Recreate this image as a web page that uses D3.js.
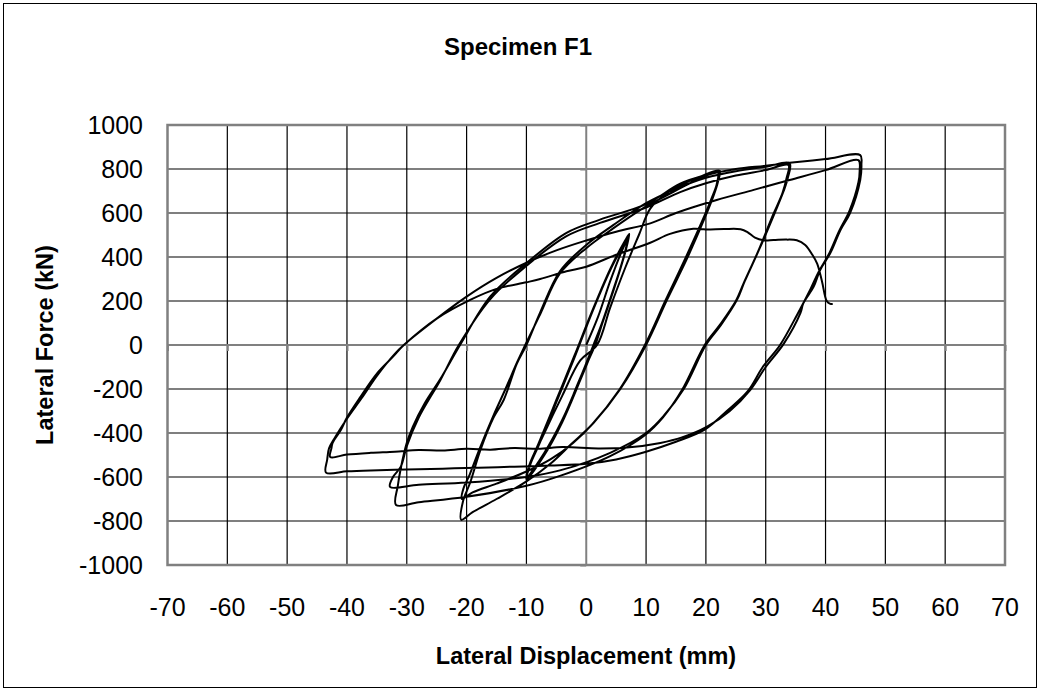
<!DOCTYPE html>
<html><head><meta charset="utf-8">
<script src="https://cdn.jsdelivr.net/npm/d3@7"></script>
<style>
body{margin:0;background:#fff}
svg text{font-family:Arial,"Liberation Sans",sans-serif;fill:#000}
</style></head>
<body><svg id="c" width="1040" height="691"></svg>
<script>
// ---- tick labels ----
const xTicks = [-70,-60,-50,-40,-30,-20,-10,0,10,20,30,40,50,60,70];
const yTicks = [-1000,-800,-600,-400,-200,0,200,400,600,800,1000];

// ---- hysteresis branches [displacement mm, force kN] ----
const cycSmall = [[0,0],[2,130],[4,290],[6,430],[7,485],
 [6.4,410],[4.5,250],[2.5,90],[1.2,0],[-1,-150],[-4,-340],[-7,-490],[-9.8,-595],
 [-9.3,-540],[-8,-460],[-5,-260],[-2,-60],[1,150],[4,340],[6.5,470],[7,495],
 [6.5,425],[4.6,255],[2.6,95],[1.4,0],[-1,-160],[-4,-350],[-7,-500],[-10,-605],
 [-9.5,-545],[-8,-450],[-5,-250],[-2,-50],[1,155],[4,345],[6.5,475],[7.2,505],
 [6.6,430],[4.7,260],[2.7,100],[1.5,0],[-1,-150],[-4,-345],[-7,-500],[-10,-610]];
const load22a = [[-10,-610],[-9.4,-545],[-7,-400],[-4,-230],[-1,-70],[1.8,0],[4,170],[6.5,350],[8.8,500],[10.7,620],[13,680],[16,730],[19,765],[22.3,792]];
const unload22a = [[22.3,792],[22,740],[21.3,680],[20,590],[16.8,390],[13.5,205],[10,0],[5.7,-200],[1.2,-355],[-2.2,-445],[-6,-520],[-10,-575],[-15,-630],[-19,-670],[-20.8,-700]];
const load22b = [[-20.8,-700],[-20.5,-650],[-19.5,-590],[-17.8,-470],[-15.5,-320],[-13.5,-200],[-11.5,-75],[-10.2,0],[-7.7,140],[-4.4,325],[0,440],[4.5,530],[10,630],[14.5,695],[18,745],[20.5,775],[22,788]];
const unload22b = [[22,788],[21.8,730],[21,670],[19.8,590],[16.5,390],[13.2,200],[9.8,0],[5.5,-205],[1,-360],[-2.5,-450],[-6,-540],[-10,-620],[-15,-700],[-19,-760],[-20.9,-795]];
const load34a = [[-20.9,-795],[-20.6,-710],[-19.4,-625],[-17.7,-478],[-15.5,-330],[-13.8,-250],[-11.6,-85],[-10,0],[-7.7,148],[-4.4,335],[0,455],[4.5,545],[10,645],[15,710],[20,760],[25,790],[30,810],[34,826]];
const unload34a = [[34,826],[33.7,760],[33,700],[31.5,600],[29,440],[26.5,290],[25.2,205],[22.5,90],[20,0],[16.3,-200],[13,-320],[10,-400],[4,-490],[-4.4,-570],[-10,-600],[-20,-625],[-28,-635],[-32.8,-645]];
const load34b = [[-32.8,-645],[-32.3,-600],[-31,-553],[-30,-460],[-28,-330],[-24.4,-160],[-21.3,0],[-16,210],[-10,360],[-3.3,495],[2.3,555],[10,625],[15.7,695],[20,735],[25,770],[30,795],[33.8,818]];
const unload34b = [[33.8,818],[33.5,760],[32.8,690],[31.2,590],[28.8,430],[26.3,280],[25,200],[22.3,90],[19.8,0],[16,-205],[12.8,-330],[9.8,-410],[4,-505],[-4.4,-595],[-10,-640],[-20,-690],[-28,-715],[-31.8,-727]];
const load45a = [[-31.8,-727],[-31.5,-640],[-31,-560],[-30,-445],[-29,-372],[-27,-265],[-24.4,-155],[-21,5],[-16,222],[-10,372],[-3.3,510],[2.3,570],[10,640],[15.7,733],[20,772],[25,800],[30,815],[34,828],[40,845],[45.8,863]];
const unload45a = [[45.8,863],[46,820],[45.8,750],[44.1,600],[42.5,523],[40.8,418],[39.1,341],[38,264],[36.3,190],[35.8,145],[33,5],[30,-100],[27.4,-205],[24,-300],[20.2,-371],[16,-420],[12.4,-445],[6.8,-466],[2,-470],[-4,-464],[-8,-472],[-12,-468],[-16,-476],[-20,-472],[-24,-480],[-28,-477],[-32,-485],[-36,-490],[-40,-498],[-42.8,-509]];
const load45b = [[-42.8,-509],[-42.6,-470],[-42.4,-445],[-41,-385],[-40,-330],[-37.8,-238],[-35,-130],[-32.3,-53],[-30.5,0],[-25,120],[-20,220],[-15,305],[-9.9,375],[-5,430],[0,475],[5,515],[10.7,553],[15,600],[21.8,659],[28,705],[34,750],[40,795],[45.5,840]];
const unload45b = [[45.5,840],[45.7,790],[45.5,740],[44,610],[42.3,520],[40.5,410],[38.8,330],[37.5,255],[35.3,140],[32.4,0],[29.5,-100],[27,-210],[23.5,-300],[19.8,-385],[15,-440],[10,-485],[5,-520],[0,-540],[-6,-548],[-12,-553],[-18,-558],[-24,-562],[-30,-566],[-36,-570],[-40,-574],[-43.5,-580]];
const finalPush = [[-43.5,-580],[-43.3,-520],[-43,-470],[-42,-420],[-40,-335],[-37.5,-240],[-35,-140],[-32,-40],[-30.5,0],[-25,120],[-19.4,205],[-15,255],[-10,285],[-7.7,300],[-3.3,335],[0,356],[5,410],[10.7,465],[14,505],[17.9,528],[20,525],[23,527],[25.8,526],[27,512],[28.2,488],[29.6,476],[31.3,477],[33.5,479],[35.2,476],[36.6,455],[37.8,410],[38.6,370],[39.4,290],[40.2,200],[40.8,187],[41.2,186]];

const branches = [cycSmall,load22a,unload22a,load22b,unload22b,load34a,unload34a,load34b,unload34b,load45a,unload45a,load45b,unload45b,finalPush];

// ---- layout ----
const W=1040,H=691;
const L=167.5,R=1005,T=125,B=565;
const svg=d3.select('#c');
svg.append('rect').attr('x',3.5).attr('y',3.5).attr('width',W-7).attr('height',H-7)
  .attr('fill','#fff').attr('stroke','#000').attr('stroke-width',1);

const x=d3.scaleLinear().domain([-70,70]).range([L,R]);
const y=d3.scaleLinear().domain([-1000,1000]).range([B,T]);

// grid
const g=svg.append('g');
g.selectAll('.vx').data(xTicks.filter(v=>v!==0&&v!==-70&&v!==70)).enter().append('line')
  .attr('x1',d=>x(d)).attr('x2',d=>x(d)).attr('y1',T).attr('y2',B)
  .attr('stroke','#000').attr('stroke-width',1.2);
g.selectAll('.hy').data(yTicks.filter(v=>v!==0&&v!==-1000&&v!==1000)).enter().append('line')
  .attr('y1',d=>y(d)).attr('y2',d=>y(d)).attr('x1',L).attr('x2',R)
  .attr('stroke','#000').attr('stroke-width',1.2);

// axes through zero
const xAxis=d3.axisBottom(x).tickValues(xTicks).tickSize(6).tickFormat('');
const yAxis=d3.axisLeft(y).tickValues(yTicks).tickSize(6).tickFormat('');
const ga=svg.append('g').attr('transform',`translate(0,${y(0)})`).call(xAxis);
const gb=svg.append('g').attr('transform',`translate(${x(0)},0)`).call(yAxis);
[ga,gb].forEach(s=>{s.selectAll('path,line').attr('stroke','#808080').attr('stroke-width',2);});
ga.select('.domain').attr('d',`M${L},0H${R}`);
gb.select('.domain').attr('d',`M0,${T}V${B}`);

// plot border
svg.append('rect').attr('x',L).attr('y',T).attr('width',R-L).attr('height',B-T)
  .attr('fill','none').attr('stroke','#808080').attr('stroke-width',2.5);

// data
svg.append('clipPath').attr('id','clp').append('rect').attr('x',L).attr('y',T).attr('width',R-L).attr('height',B-T);
const pts=[];
branches.forEach((b,i)=>b.forEach((p,j)=>{ if(i>0&&j===0) return; pts.push(p); }));
const line=d3.line().x(d=>x(d[0])).y(d=>y(d[1])).curve(d3.curveCatmullRom.alpha(0.5));
svg.append('path').attr('clip-path','url(#clp)').attr('d',line(pts))
  .attr('fill','none').attr('stroke','#000').attr('stroke-width',2).attr('stroke-linejoin','round');

// tick labels
svg.append('g').selectAll('text').data(yTicks).enter().append('text')
  .attr('x',143).attr('y',d=>y(d)).attr('dy','0.35em').attr('text-anchor','end')
  .style('font-size','25px').text(d=>d);
svg.append('g').selectAll('text').data(xTicks).enter().append('text')
  .attr('x',d=>x(d)).attr('y',607).attr('dy','0.35em').attr('text-anchor','middle')
  .style('font-size','25px').text(d=>d);

// titles
svg.append('text').attr('x',518).attr('y',47).attr('dy','0.35em').attr('text-anchor','middle')
  .style('font-size','24px').style('font-weight','bold').text('Specimen F1');
svg.append('text').attr('x',586).attr('y',656).attr('dy','0.35em').attr('text-anchor','middle')
  .style('font-size','23.5px').style('font-weight','bold').text('Lateral Displacement (mm)');
svg.append('text').attr('transform','translate(45,345) rotate(-90)').attr('dy','0.35em').attr('text-anchor','middle')
  .style('font-size','23.5px').style('font-weight','bold').text('Lateral Force (kN)');
</script></body></html>
